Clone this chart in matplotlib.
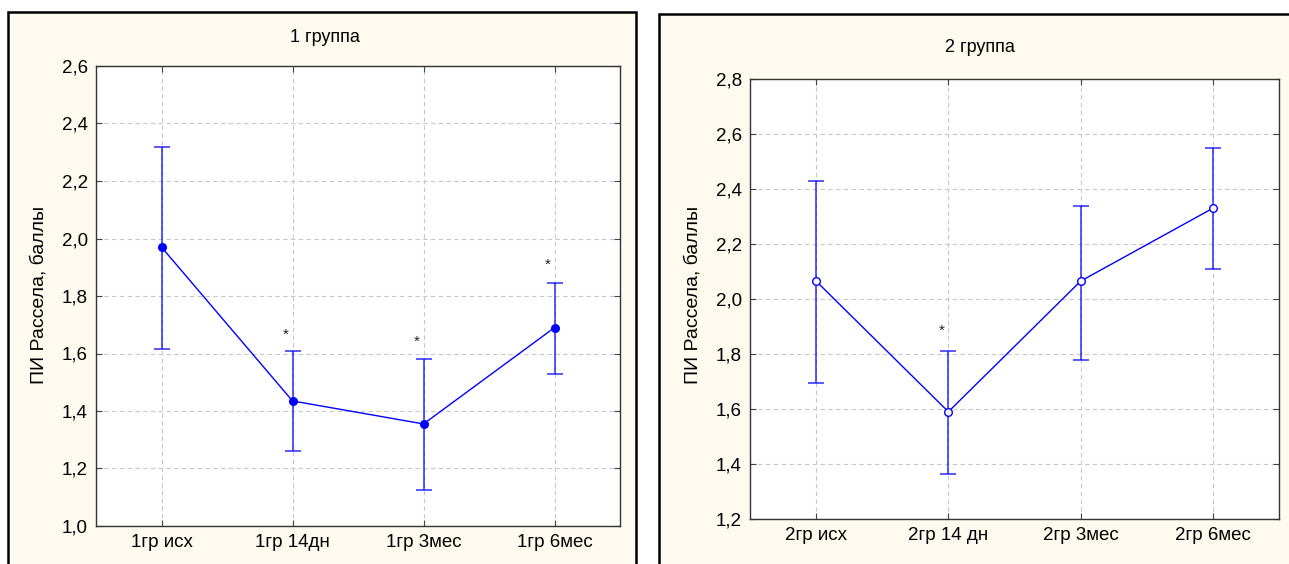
import numpy as np
import matplotlib.pyplot as plt
from matplotlib.patches import Rectangle
from matplotlib.ticker import FuncFormatter, MultipleLocator

plt.rcParams['font.family'] = ['Liberation Sans', 'DejaVu Sans']

# =========================
# Data
# =========================
labels1 = ["1гр исх", "1гр 14дн", "1гр 3мес", "1гр 6мес"]
mean1 = [1.97, 1.435, 1.355, 1.69]
upper1 = [2.32, 1.61, 1.58, 1.845]
lower1 = [1.615, 1.26, 1.125, 1.53]
star1_idx = [1, 2, 3]
star1_y = [1.665, 1.64, 1.91]

labels2 = ["2гр исх", "2гр 14 дн", "2гр 3мес", "2гр 6мес"]
mean2 = [2.065, 1.59, 2.065, 2.33]
upper2 = [2.43, 1.81, 2.34, 2.55]
lower2 = [1.695, 1.365, 1.78, 2.11]
star2_idx = [1]
star2_y = [1.885]

W, H = 1289, 564
fig = plt.figure(figsize=(W / 100, H / 100), dpi=100)
fig.patch.set_facecolor('white')

cream = '#fffaef'
blue = '#0000ff'

# panel frames (pixel coords -> figure fraction)
def frame(x0, y_top, x1):
    r = Rectangle((x0 / W, -0.05), (x1 - x0) / W, (H - y_top) / H + 0.05,
                  transform=fig.transFigure, facecolor=cream,
                  edgecolor='black', lw=1.8, zorder=-5)
    fig.patches.append(r)

frame(8, 12, 636)
frame(659, 14, 1340)

comma = FuncFormatter(lambda v, p: f"{v:.1f}".replace('.', ','))

def panel(rect, labels, mean, upper, lower, ylim, title, title_xy, ylab_x,
          stars_idx, stars_y, filled):
    ax = fig.add_axes(rect)
    ax.set_facecolor('white')
    x = np.arange(len(labels))
    m = np.array(mean)
    err = [m - np.array(lower), np.array(upper) - m]
    ax.errorbar(x, m, yerr=err, fmt='none', ecolor=blue, elinewidth=1.3,
                capsize=6, capthick=1.3, alpha=0.7, zorder=3)
    ax.plot(x, m, color=blue, lw=1, zorder=4,
            marker='o', ms=5.5,
            mfc=blue if filled else 'white', mec=blue, mew=1)
    for i, yv in zip(stars_idx, stars_y):
        ax.text(i - 0.05, yv, '*', ha='center', va='center', fontsize=11,
                color='#222222')
    ax.set_xlim(-0.5, len(labels) - 0.5)
    ax.set_ylim(*ylim)
    ax.yaxis.set_major_locator(MultipleLocator(0.2))
    ax.yaxis.set_major_formatter(comma)
    ax.set_xticks(x)
    ax.set_xticklabels(labels)
    ax.grid(True, ls=(0, (4, 3)), color='#c8c8c8', lw=0.8)
    ax.tick_params(axis='both', labelsize=13.5, direction='in', length=4,
                   color='#444444', right=True, top=True, pad=6)
    for s in ax.spines.values():
        s.set_color('#333333')
        s.set_linewidth(1)
    fig.text(title_xy[0] / W, 1 - title_xy[1] / H, title, ha='center',
             va='center', fontsize=13)
    fig.text(ylab_x / W, 1 - 295 / H, 'ПИ Рассела, баллы', rotation=90,
             ha='center', va='center', fontsize=14)
    return ax

panel([96 / W, (H - 526) / H, (620 - 96) / W, (526 - 66) / H],
      labels1, mean1, upper1, lower1, (1.0, 2.6), '1 группа', (325, 38), 39,
      star1_idx, star1_y, True)
panel([750 / W, (H - 519) / H, (1279 - 750) / W, (519 - 79) / H],
      labels2, mean2, upper2, lower2, (1.2, 2.8), '2 группа', (980, 47), 693,
      star2_idx, star2_y, False)

fig.savefig('out.png', dpi=100)
